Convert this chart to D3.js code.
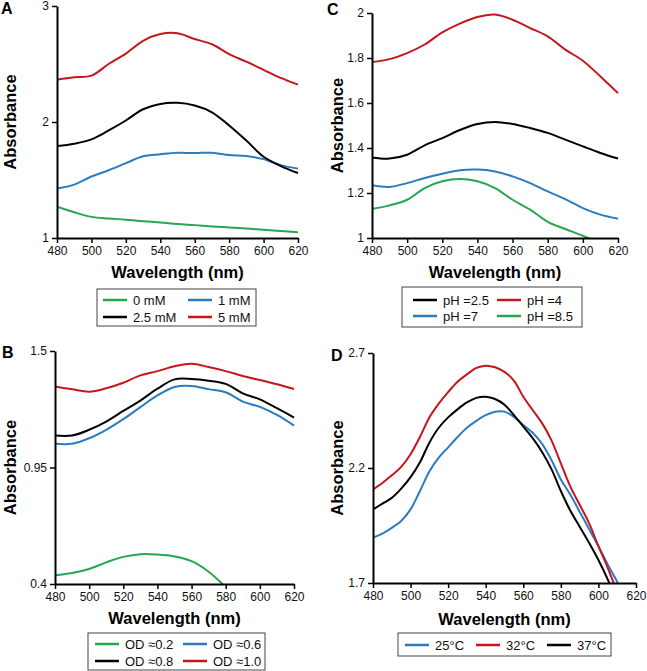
<!DOCTYPE html>
<html><head><meta charset="utf-8">
<script src="https://cdn.jsdelivr.net/npm/d3@7"></script>
<style>body{margin:0;background:#fff} svg{display:block;font-family:"Liberation Sans",Arial,sans-serif}</style>
</head><body><svg id="c" width="647" height="671"></svg>
<script>
// ---------- DATA ----------
const xTicks = [480, 500, 520, 540, 560, 580, 600, 620];
const wl10 = [480, 490, 500, 510, 520, 530, 540, 550, 560, 570, 580, 590, 600, 610, 620];
const wlB = [480, 490, 500, 510, 520, 530, 540, 550, 560, 570, 580, 590, 600, 610, 620];
const wlD = [480, 485, 490, 495, 500, 505, 510, 515, 520, 525, 530, 535, 540, 545, 550, 555, 560, 565, 570, 575, 580, 585, 590, 595, 600, 605, 610, 615];

// Panel A (concentration)
const aTicksY = [1, 2, 3];
const a0mM   = [1.269, 1.222, 1.182, 1.168, 1.158, 1.145, 1.134, 1.121, 1.111, 1.100, 1.091, 1.082, 1.072, 1.060, 1.049];
const a1mM   = [1.427, 1.460, 1.530, 1.584, 1.645, 1.705, 1.722, 1.735, 1.732, 1.735, 1.715, 1.706, 1.680, 1.628, 1.598];
const a25mM  = [1.792, 1.813, 1.850, 1.927, 2.013, 2.110, 2.156, 2.165, 2.142, 2.084, 1.970, 1.840, 1.700, 1.620, 1.560];
const a5mM   = [2.365, 2.385, 2.400, 2.500, 2.590, 2.700, 2.758, 2.765, 2.715, 2.670, 2.585, 2.520, 2.450, 2.380, 2.322];

// Panel B (OD)
const bTicksY = [0.4, 0.95, 1.5];
const bOD02 = [0.441, 0.452, 0.471, 0.502, 0.528, 0.541, 0.539, 0.530, 0.508, 0.458, 0.385];
const bOD06 = [1.062, 1.062, 1.088, 1.128, 1.178, 1.235, 1.290, 1.330, 1.335, 1.320, 1.305, 1.261, 1.236, 1.198, 1.148];
const bOD08 = [1.101, 1.101, 1.128, 1.167, 1.217, 1.266, 1.322, 1.366, 1.368, 1.360, 1.345, 1.300, 1.272, 1.230, 1.186];
const bOD10 = [1.332, 1.319, 1.308, 1.324, 1.350, 1.385, 1.405, 1.428, 1.440, 1.424, 1.405, 1.382, 1.363, 1.343, 1.321];

// Panel C (pH)
const cTicksY = [1, 1.2, 1.4, 1.6, 1.8, 2];
const cPH25 = [1.358, 1.353, 1.370, 1.412, 1.444, 1.480, 1.507, 1.516, 1.507, 1.489, 1.467, 1.437, 1.407, 1.378, 1.353];
const cPH4  = [1.782, 1.795, 1.822, 1.860, 1.914, 1.953, 1.982, 1.993, 1.970, 1.933, 1.896, 1.837, 1.788, 1.718, 1.644];
const cPH7  = [1.234, 1.227, 1.244, 1.267, 1.286, 1.301, 1.304, 1.296, 1.274, 1.244, 1.207, 1.173, 1.133, 1.104, 1.086];
const cPH85 = [1.129, 1.145, 1.170, 1.222, 1.252, 1.262, 1.252, 1.222, 1.170, 1.126, 1.072, 1.040, 1.010, 0.975];

// Panel D (temperature)
const dTicksY = [1.7, 2.2, 2.7];
const d25C = [1.897, 1.915, 1.940, 1.970, 2.020, 2.100, 2.185, 2.245, 2.290, 2.335, 2.375, 2.405, 2.430, 2.445, 2.445, 2.422, 2.387, 2.353, 2.305, 2.235, 2.150, 2.085, 2.010, 1.935, 1.860, 1.780, 1.705, 1.620];
const d32C = [2.107, 2.135, 2.168, 2.205, 2.260, 2.335, 2.420, 2.480, 2.530, 2.575, 2.607, 2.635, 2.645, 2.638, 2.618, 2.580, 2.510, 2.452, 2.395, 2.320, 2.220, 2.120, 2.040, 1.960, 1.860, 1.765, 1.660];
const d37C = [2.020, 2.045, 2.070, 2.110, 2.160, 2.225, 2.310, 2.375, 2.420, 2.455, 2.485, 2.505, 2.510, 2.500, 2.475, 2.430, 2.380, 2.330, 2.270, 2.195, 2.100, 2.015, 1.945, 1.875, 1.800, 1.715, 1.620];

const GREEN = "#26a74f", BLUE = "#2b7bc1", BLACK = "#000000", RED = "#c4161c";

// ---------- DRAW ----------
const svg = d3.select("#c");
let clipId = 0;

function panel(cfg) {
  const g = svg.append("g");
  const x = d3.scaleLinear().domain([480, 620]).range([cfg.left, cfg.right]);
  const y = d3.scaleLinear().domain(cfg.yDomain).range([cfg.bottom, cfg.top]);
  const id = "clip" + (clipId++);
  svg.append("clipPath").attr("id", id).append("rect")
    .attr("x", cfg.left).attr("y", cfg.top - 10)
    .attr("width", cfg.right - cfg.left + 6).attr("height", cfg.bottom - cfg.top + 10);

  const line = d3.line().x(d => x(d[0])).y(d => y(d[1])).curve(d3.curveCatmullRom.alpha(0.5));
  cfg.series.forEach(s => {
    const pts = s.values.map((v, i) => [s.wl[i], v]);
    g.append("path").attr("d", line(pts)).attr("fill", "none")
      .attr("stroke", s.color).attr("stroke-width", 2).attr("clip-path", `url(#${id})`);
  });

  const xa = g.append("g").attr("transform", `translate(0,${cfg.bottom})`)
    .call(d3.axisBottom(x).tickValues(xTicks).tickSize(5).tickSizeOuter(0).tickPadding(3).tickFormat(d => d));
  const ya = g.append("g").attr("transform", `translate(${cfg.left},0)`)
    .call(d3.axisLeft(y).tickValues(cfg.yTicks).tickSize(5).tickSizeOuter(0).tickPadding(3).tickFormat(d => String(d)));
  [xa, ya].forEach(a => {
    a.select(".domain").attr("stroke", "#000").attr("stroke-width", 2);
    a.selectAll(".tick line").attr("stroke", "#000").attr("stroke-width", 1.5);
    a.selectAll(".tick text").attr("font-size", 12).attr("fill", "#111").attr("font-family", "Liberation Sans, Arial, sans-serif");
  });

  // titles
  g.append("text").attr("x", (cfg.left + cfg.right) / 2).attr("y", cfg.xTitleY)
    .attr("text-anchor", "middle").attr("font-size", 16.5).attr("font-weight", "bold").text("Wavelength (nm)");
  g.append("text").attr("transform", `translate(${cfg.yTitleX},${(cfg.top + cfg.bottom) / 2}) rotate(-90)`)
    .attr("text-anchor", "middle").attr("font-size", 16.5).attr("font-weight", "bold").text("Absorbance");
  g.append("text").attr("x", cfg.letter[1]).attr("y", cfg.letter[2])
    .attr("font-size", 16).attr("font-weight", "bold").text(cfg.letter[0]);

  // legend
  const L = cfg.legend;
  g.append("rect").attr("x", L.x).attr("y", L.y).attr("width", L.w).attr("height", L.h)
    .attr("fill", "#fff").attr("stroke", "#444").attr("stroke-width", 1);
  L.items.forEach(it => {
    g.append("line").attr("x1", it.sx).attr("x2", it.sx + 24).attr("y1", it.y).attr("y2", it.y)
      .attr("stroke", it.color).attr("stroke-width", 2.5);
    g.append("text").attr("x", it.sx + 30).attr("y", it.y).attr("dy", "0.36em")
      .attr("font-size", 13).attr("fill", "#111").text(it.label);
  });
}

panel({
  left: 57, right: 298, top: 6, bottom: 238, yDomain: [1, 3], yTicks: aTicksY,
  xTitleY: 278, yTitleX: 16, letter: ["A", 1, 14],
  series: [
    {wl: wl10, values: a0mM, color: GREEN},
    {wl: wl10, values: a1mM, color: BLUE},
    {wl: wl10, values: a25mM, color: BLACK},
    {wl: wl10, values: a5mM, color: RED}
  ],
  legend: {x: 97, y: 289, w: 159, h: 37, items: [
    {sx: 103, y: 300, color: GREEN, label: "0 mM"},
    {sx: 188, y: 300, color: BLUE, label: "1 mM"},
    {sx: 103, y: 317, color: BLACK, label: "2.5 mM"},
    {sx: 188, y: 317, color: RED, label: "5 mM"}
  ]}
});

panel({
  left: 372, right: 618, top: 13, bottom: 238, yDomain: [1, 2], yTicks: cTicksY,
  xTitleY: 278, yTitleX: 343, letter: ["C", 327, 15],
  series: [
    {wl: wl10, values: cPH25, color: BLACK},
    {wl: wl10, values: cPH4, color: RED},
    {wl: wl10, values: cPH7, color: BLUE},
    {wl: wl10, values: cPH85, color: GREEN}
  ],
  legend: {x: 402, y: 287, w: 180, h: 40, items: [
    {sx: 413, y: 300, color: BLACK, label: "pH =2.5"},
    {sx: 497, y: 300, color: RED, label: "pH =4"},
    {sx: 413, y: 316, color: BLUE, label: "pH =7"},
    {sx: 497, y: 316, color: GREEN, label: "pH =8.5"}
  ]}
});

panel({
  left: 55, right: 294, top: 351, bottom: 584, yDomain: [0.4, 1.5], yTicks: bTicksY,
  xTitleY: 624, yTitleX: 16, letter: ["B", 2, 358],
  series: [
    {wl: wlB, values: bOD02, color: GREEN},
    {wl: wlB, values: bOD06, color: BLUE},
    {wl: wlB, values: bOD08, color: BLACK},
    {wl: wlB, values: bOD10, color: RED}
  ],
  legend: {x: 88, y: 633, w: 177, h: 37, items: [
    {sx: 95, y: 644, color: GREEN, label: "OD \u22480.2"},
    {sx: 183, y: 644, color: BLUE, label: "OD \u22480.6"},
    {sx: 95, y: 661, color: BLACK, label: "OD \u22480.8"},
    {sx: 183, y: 661, color: RED, label: "OD \u22481.0"}
  ]}
});

panel({
  left: 373, right: 636, top: 353, bottom: 583, yDomain: [1.7, 2.7], yTicks: dTicksY,
  xTitleY: 625, yTitleX: 343, letter: ["D", 331, 361],
  series: [
    {wl: wlD, values: d25C, color: BLUE},
    {wl: wlD, values: d32C, color: RED},
    {wl: wlD, values: d37C, color: BLACK}
  ],
  legend: {x: 398, y: 633, w: 213, h: 23, items: [
    {sx: 405, y: 645, color: BLUE, label: "25\u00b0C"},
    {sx: 476, y: 645, color: RED, label: "32\u00b0C"},
    {sx: 547, y: 645, color: BLACK, label: "37\u00b0C"}
  ]}
});
</script></body></html>
